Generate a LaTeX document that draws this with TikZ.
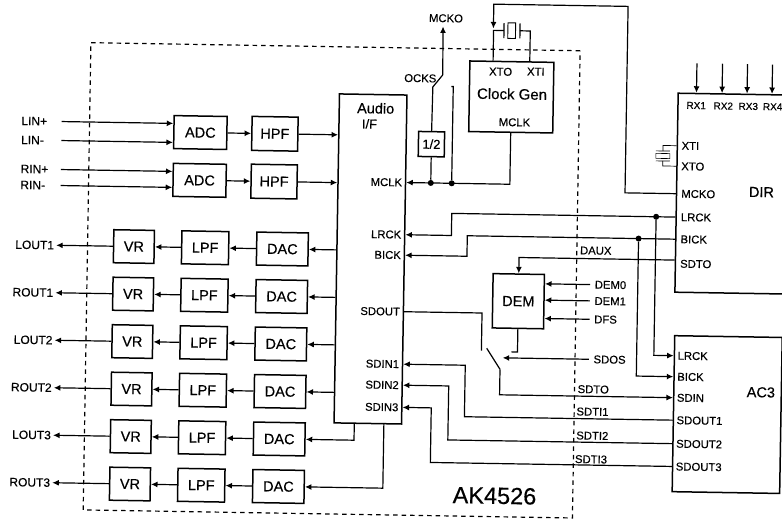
\documentclass[tikz,border=0pt]{standalone}
\usepackage{fontspec}
\setmainfont[FakeBold=0.4]{Liberation Sans}
\usetikzlibrary{arrows.meta,calc}
\tikzset{
  block/.style={draw,line width=1.5pt,inner sep=0pt,font=\fontsize{14.5}{15}\selectfont},
  adcbox/.style={block,minimum width=53pt,minimum height=33pt},
  hpfbox/.style={block,minimum width=46pt,minimum height=34pt},
  vrbox/.style={block,minimum width=40.6pt,minimum height=33pt},
  lpfbox/.style={block,minimum width=47pt,minimum height=33pt},
  dacbox/.style={block,minimum width=51.5pt,minimum height=33pt},
  pinlab/.style={inner sep=2pt,font=\fontsize{11.3}{12}\selectfont},
  inlab/.style={pinlab,font=\fontsize{12}{12}\selectfont,anchor=west,text width=38pt,align=left},
  outlab/.style={pinlab,font=\fontsize{12}{12}\selectfont,anchor=east},
  extlab/.style={pinlab,anchor=west,inner xsep=4.5pt},
  biglab/.style={inner sep=0pt,font=\fontsize{14.5}{15}\selectfont},
  sig/.style={line width=1.2pt},
  sigarr/.style={sig,-{Latex[length=6.5pt,width=6pt]}},
  joint/.style={circle,fill,inner sep=0pt,minimum size=6pt},
}
\begin{document}
\begin{tikzpicture}[x=1pt,y=-1pt]
\useasboundingbox (0,0) rectangle (782,520);
\clip (0,0) rectangle (782,520);
\begin{scope}[rotate around={-0.945:(391,260)},transform shape]
\node[draw,dashed,line width=1.2pt,dash pattern=on 4.5pt off 4pt,minimum width=489.3pt,minimum height=467.3pt,inner sep=0pt] (chip) at (332,281.3) {};
\node[inner sep=0pt,font=\fontsize{23.5}{24}\selectfont] (chipname) at (498.4,494) {AK4526};

\node[block,minimum width=67.5pt,minimum height=329pt] (audio) at (370.5,259.3) {};
\node[biglab] (audname) at (373.2,108.5) {Audio};
\node[biglab,font=\fontsize{13}{14}\selectfont] (audif) at (367.3,124.3) {I/F};
\node[pinlab,anchor=east] (amclk) at (403,182.3) {MCLK};
\node[pinlab,anchor=east] (alrck) at (403,234.5) {LRCK};
\node[pinlab,anchor=east] (abick) at (403,255) {BICK};
\node[pinlab,anchor=east] (asdout) at (403,311.5) {SDOUT};
\node[pinlab,anchor=east] (asdin1) at (403,364) {SDIN1};
\node[pinlab,anchor=east] (asdin2) at (403,385) {SDIN2};
\node[pinlab,anchor=east] (asdin3) at (403,407.2) {SDIN3};

\node[adcbox] (adc1) at (198.3,135.7) {ADC};
\node[adcbox] (adc2) at (198.3,183.5) {ADC};
\node[hpfbox] (hpf1) at (272.8,135.7) {HPF};
\node[hpfbox] (hpf2) at (272.8,183.5) {HPF};
\node[inlab] (linp) at (17,127) {LIN+};
\node[inlab] (linm) at (17,146) {LIN-};
\node[inlab] (rinp) at (17,175) {RIN+};
\node[inlab] (rinm) at (17,191) {RIN-};
\draw[sigarr] (linp) -- (linp -| adc1.west);
\draw[sigarr] (linm) -- (linm -| adc1.west);
\draw[sigarr] (rinp) -- (rinp -| adc2.west);
\draw[sigarr] (rinm) -- (rinm -| adc2.west);
\draw[sigarr] (adc1) -- (hpf1);
\draw[sigarr] (adc2) -- (hpf2);
\draw[sigarr] (hpf1) -- (hpf1 -| audio.west);
\draw[sigarr] (hpf2) -- (hpf2 -| audio.west);

\node[vrbox] (vr1) at (133.7,250.8) {VR};
\node[vrbox] (vr2) at (133.7,298.3) {VR};
\node[vrbox] (vr3) at (133.7,345.8) {VR};
\node[vrbox] (vr4) at (133.7,393.3) {VR};
\node[vrbox] (vr5) at (133.7,440.8) {VR};
\node[vrbox] (vr6) at (133.7,488.3) {VR};
\node[lpfbox] (lpf1) at (205,250.8) {LPF};
\node[lpfbox] (lpf2) at (205,298.3) {LPF};
\node[lpfbox] (lpf3) at (205,345.8) {LPF};
\node[lpfbox] (lpf4) at (205,393.3) {LPF};
\node[lpfbox] (lpf5) at (205,440.8) {LPF};
\node[lpfbox] (lpf6) at (205,488.3) {LPF};
\node[dacbox] (dac1) at (282.2,250.8) {DAC};
\node[dacbox] (dac2) at (282.2,298.3) {DAC};
\node[dacbox] (dac3) at (282.2,345.8) {DAC};
\node[dacbox] (dac4) at (282.2,393.3) {DAC};
\node[dacbox] (dac5) at (282.2,440.8) {DAC};
\node[dacbox] (dac6) at (282.2,488.3) {DAC};
\node[outlab] (lout1) at (56,250.8) {LOUT1};
\node[outlab] (rout1) at (56,298.3) {ROUT1};
\node[outlab] (lout2) at (56,345.8) {LOUT2};
\node[outlab] (rout2) at (56,393.3) {ROUT2};
\node[outlab] (lout3) at (56,440.8) {LOUT3};
\node[outlab] (rout3) at (56,488.3) {ROUT3};
\draw[sigarr] (vr1) -- (lout1);
\draw[sigarr] (vr2) -- (rout1);
\draw[sigarr] (vr3) -- (lout2);
\draw[sigarr] (vr4) -- (rout2);
\draw[sigarr] (vr5) -- (lout3);
\draw[sigarr] (vr6) -- (rout3);
\draw[sigarr] (lpf1) -- (vr1);
\draw[sigarr] (lpf2) -- (vr2);
\draw[sigarr] (lpf3) -- (vr3);
\draw[sigarr] (lpf4) -- (vr4);
\draw[sigarr] (lpf5) -- (vr5);
\draw[sigarr] (lpf6) -- (vr6);
\draw[sigarr] (dac1) -- (lpf1);
\draw[sigarr] (dac2) -- (lpf2);
\draw[sigarr] (dac3) -- (lpf3);
\draw[sigarr] (dac4) -- (lpf4);
\draw[sigarr] (dac5) -- (lpf5);
\draw[sigarr] (dac6) -- (lpf6);
\draw[sigarr] (dac1 -| audio.west) -- (dac1);
\draw[sigarr] (dac2 -| audio.west) -- (dac2);
\draw[sigarr] (dac3 -| audio.west) -- (dac3);
\draw[sigarr] (dac4 -| audio.west) -- (dac4);
\coordinate (dac5tap) at (357,423.8);
\coordinate (dac6tap) at (386.6,423.8);
\draw[sigarr] (dac5tap) |- (dac5);
\draw[sigarr] (dac6tap) |- (dac6);

\node[block,minimum width=84pt,minimum height=70.6pt] (clk) at (508.6,95) {};
\node[pinlab] (clkxto) at (497.5,69.9) {XTO};
\node[pinlab] (clkxti) at (532.7,69.3) {XTI};
\node[biglab,font=\fontsize{15}{15}\selectfont] (clkname) at (509.3,92) {Clock Gen};
\node[pinlab] (clkmclk) at (512.2,120.3) {MCLK};
\node[block,line width=0.9pt,minimum width=7.7pt,minimum height=15.6pt] (xtal) at (507.9,28.7) {};
\coordinate (xtall) at (489.8,28.7);
\coordinate (xtalr) at (526.5,28.7);
\coordinate (platel) at (500.2,28.7);
\coordinate (plater) at (516.2,28.7);
\draw[sig] (xtall |- clk.north) -- (xtall) -- (platel);
\draw[sig] (xtalr |- clk.north) -- (xtalr) -- (plater);
\draw[sig] ($(platel)+(0,-7.5)$) -- ($(platel)+(0,7.5)$);
\draw[sig] ($(plater)+(0,-7.5)$) -- ($(plater)+(0,7.5)$);

\node[block,minimum width=26pt,minimum height=25pt,font=\fontsize{13}{14}\selectfont] (halver) at (429.5,143.5) {1/2};
\node[joint] (jhalf) at (429.5,182.3) {};
\node[joint] (jdirect) at (450.4,182.3) {};
\node[pinlab] (ockslab) at (417.3,77.8) {OCKS};
\node[pinlab] (mckolab) at (442,17.4) {MCKO};
\coordinate (swbase) at (430,86.3);
\coordinate (swknee) at (439.7,74.1);
\coordinate (swtip) at (439.2,25.6);
\coordinate (swcontact) at (450.4,85.5);
\draw[sigarr] (clk.south) |- (amclk -| audio.east);
\draw[sig] (halver) -- (jhalf);
\draw[sig] (halver.north) -- (swbase) -- (swknee);
\draw[sigarr] (swknee) -- (swtip);
\draw[sig] (jdirect) -- (swcontact) -- ++(-2,0);

\node[block,minimum width=115pt,minimum height=199pt] (dirbox) at (732.9,188) {};
\node[biglab] (dirname) at (760.3,186) {DIR};
\node[pinlab,font=\fontsize{10}{10}\selectfont] (rx1) at (693.6,100.5) {RX1};
\node[pinlab,font=\fontsize{10}{10}\selectfont] (rx2) at (720.7,100.5) {RX2};
\node[pinlab,font=\fontsize{10}{10}\selectfont] (rx3) at (745.7,100.5) {RX3};
\node[pinlab,font=\fontsize{10}{10}\selectfont] (rx4) at (770.1,100.5) {RX4};
\coordinate (rx1in) at (693.7,58.3);
\coordinate (rx2in) at (719.3,58.3);
\coordinate (rx3in) at (744.3,58.3);
\coordinate (rx4in) at (769.3,58.3);
\draw[sigarr] (rx1in) -- (rx1in |- dirbox.north);
\draw[sigarr] (rx2in) -- (rx2in |- dirbox.north);
\draw[sigarr] (rx3in) -- (rx3in |- dirbox.north);
\draw[sigarr] (rx4in) -- (rx4in |- dirbox.north);
\node[pinlab,anchor=west] (dxti) at (677.5,141) {XTI};
\node[pinlab,anchor=west] (dxto) at (677.5,161.5) {XTO};
\node[pinlab,anchor=west] (dmcko) at (678,189) {MCKO};
\node[pinlab,anchor=west] (dlrck) at (678,212.4) {LRCK};
\node[pinlab,anchor=west] (dbick) at (678,234.5) {BICK};
\node[pinlab,anchor=west] (dsdto) at (678,259) {SDTO};
\node[draw,line width=0.6pt,inner sep=0pt,minimum width=14pt,minimum height=5pt] (dirxtal) at (661.1,151.5) {};
\coordinate (xtia) at (661.1,146.5);
\coordinate (xtib) at (661.1,156.5);
\draw[line width=0.7pt] (dirbox.west |- dxti) -| (xtia);
\draw[line width=0.7pt] (dirbox.west |- dxto) -| (xtib);
\draw[line width=0.7pt] ($(xtia)+(-7,0)$) -- ($(xtia)+(7,0)$);
\draw[line width=0.7pt] ($(xtib)+(-7,0)$) -- ($(xtib)+(7,0)$);
\coordinate (toptrack) at (623.9,2.5);
\coordinate (xtaltip) at (489.6,26.8);
\draw[sigarr] (dirbox.west |- dmcko) -| (toptrack) -| (xtaltip);

\node[joint] (jlrck) at (655.4,212.4) {};
\node[joint] (jbick) at (638.2,234.5) {};
\coordinate (lrckstep) at (451,223);
\coordinate (bickstep) at (466.9,245);
\draw[sigarr] (dirbox.west |- dlrck) -| (lrckstep) |- (alrck -| audio.east);
\draw[sigarr] (dirbox.west |- dbick) -| (bickstep) |- (abick -| audio.east);

\node[block,minimum width=51.3pt,minimum height=54.3pt] (dem) at (519,299.1) {DEM};
\node[pinlab,anchor=center] (dauxlab) at (595.6,247.3) {DAUX};
\coordinate (dauxwire) at (600,255.4);
\draw[sigarr] (dirbox.west |- dauxwire) -| (dem.north);
\node[extlab] (dem0) at (590.5,281.3) {DEM0};
\node[extlab] (dem1) at (590.5,297.6) {DEM1};
\node[extlab] (dfs) at (590.5,316) {DFS};
\node[extlab] (sdos) at (590.5,356) {SDOS};
\draw[sigarr] (dem0) -- (dem0 -| dem.east);
\draw[sigarr] (dem1) -- (dem1 -| dem.east);
\draw[sigarr] (dfs) -- (dfs -| dem.east);
\coordinate (sdostip) at (504.3,356);
\draw[sigarr] (sdos) -- (sdostip);
\coordinate (dembend) at (513,349.9);
\draw[sig] (dem.south) |- (dembend);

\node[block,minimum width=107.5pt,minimum height=156pt] (ac3) at (729.7,409) {};
\node[biglab] (ac3name) at (763,386.2) {AC3};
\node[pinlab,anchor=west] (clrck) at (677,351) {LRCK};
\node[pinlab,anchor=west] (cbick) at (677,372) {BICK};
\node[pinlab,anchor=west] (csdin) at (677,393) {SDIN};
\node[pinlab,anchor=west] (csdout1) at (677,415.5) {SDOUT1};
\node[pinlab,anchor=west] (csdout2) at (677,439) {SDOUT2};
\node[pinlab,anchor=west] (csdout3) at (677,461.8) {SDOUT3};
\draw[sigarr] (jlrck) |- (clrck -| ac3.west);
\draw[sigarr] (jbick) |- (cbick -| ac3.west);

\coordinate (swidle) at (482.9,349.2);
\coordinate (swfrom) at (488.2,346.7);
\coordinate (swto) at (501.8,367.5);
\draw[sig] (asdout -| audio.east) -| (swidle);
\draw[sig] (swfrom) -- (swto);
\draw[sigarr] (swto) |- (csdin -| ac3.west);
\node[pinlab] (sdtolab) at (595.4,386) {SDTO};
\node[pinlab] (sdti1) at (595,408.4) {SDTI1};
\node[pinlab] (sdti2) at (595.2,432.4) {SDTI2};
\node[pinlab] (sdti3) at (594.3,456) {SDTI3};
\coordinate (sdin1step) at (467,390);
\coordinate (sdin2step) at (450.8,410);
\coordinate (sdin3step) at (433.7,430);
\draw[sigarr] (csdout1 -| ac3.west) -| (sdin1step) |- (asdin1 -| audio.east);
\draw[sigarr] (csdout2 -| ac3.west) -| (sdin2step) |- (asdin2 -| audio.east);
\draw[sigarr] (csdout3 -| ac3.west) -| (sdin3step) |- (asdin3 -| audio.east);
\end{scope}
\end{tikzpicture}
\end{document}
